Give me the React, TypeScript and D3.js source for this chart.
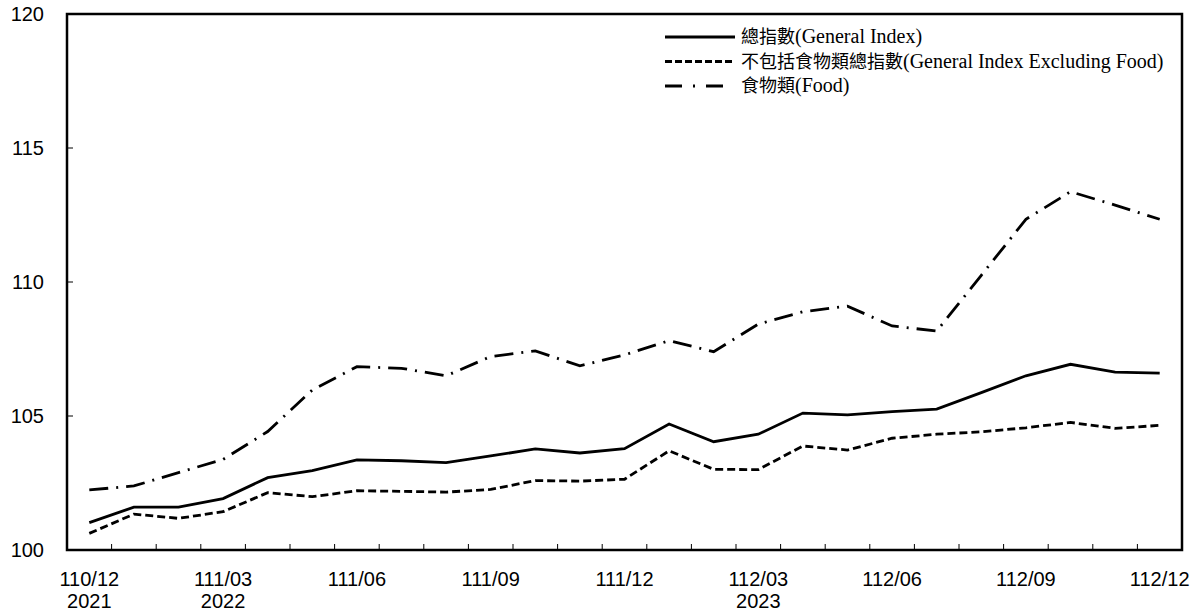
import * as d3 from 'd3'

const months = [
  '110/12', '111/01', '111/02', '111/03', '111/04', '111/05', '111/06', '111/07', '111/08',
  '111/09', '111/10', '111/11', '111/12', '112/01', '112/02', '112/03', '112/04', '112/05',
  '112/06', '112/07', '112/08', '112/09', '112/10', '112/11', '112/12',
]

const tickMonths = ['110/12', '111/03', '111/06', '111/09', '111/12', '112/03', '112/06', '112/09', '112/12']
const tickYears: Record<string, string> = { '110/12': '2021', '111/03': '2022', '112/03': '2023' }

const generalIndex = [
  101.02, 101.6, 101.6, 101.92, 102.7, 102.96, 103.36, 103.33, 103.26, 103.51, 103.77, 103.62,
  103.78, 104.7, 104.04, 104.32, 105.11, 105.04, 105.16, 105.26, 105.87, 106.5, 106.93, 106.64, 106.6,
]
const excludingFood = [
  100.62, 101.34, 101.18, 101.43, 102.14, 101.99, 102.21, 102.19, 102.16, 102.26, 102.59, 102.57,
  102.64, 103.7, 103.01, 103.0, 103.88, 103.73, 104.17, 104.32, 104.41, 104.56, 104.76, 104.54, 104.65,
]
const foodIndex = [
  102.24, 102.39, 102.89, 103.38, 104.42, 105.97, 106.84, 106.78, 106.5, 107.22, 107.43, 106.87,
  107.28, 107.81, 107.4, 108.43, 108.89, 109.1, 108.36, 108.17, 110.25, 112.34, 113.37, 112.87, 112.34,
]

const yTicks = [100, 105, 110, 115, 120]

const seriesList = [
  { name: '總指數', en: '(General Index)', values: generalIndex, dash: 'none', legendDash: 'none', legendEnd: 735 },
  {
    name: '不包括食物類總指數',
    en: '(General Index Excluding Food)',
    values: excludingFood,
    dash: '8,4',
    legendDash: '7,3',
    legendEnd: 735,
  },
  { name: '食物類', en: '(Food)', values: foodIndex, dash: '19,8,2,8', legendDash: '17,11,2,11', legendEnd: 723 },
]

const width = 1203
const height = 612
const plot = { left: 67, right: 1182, top: 14, bottom: 550 }
const sansFont = '"Liberation Sans", Arial, sans-serif'
const serifFont = '"Liberation Serif", "Times New Roman", "Noto Sans CJK TC", serif'

export default function App() {
  const x = d3.scaleBand<string>().domain(months).range([plot.left, plot.right]).padding(0)
  const y = d3.scaleLinear().domain([100, 120]).range([plot.bottom, plot.top])
  const cx = (m: string) => (x(m) ?? 0) + x.bandwidth() / 2

  const line = d3
    .line<number>()
    .x((_, i) => cx(months[i]))
    .y((v) => y(v))

  return (
    <svg
      width={width}
      height={height}
      style={{ position: 'absolute', left: 0, top: 0, background: '#fff' }}
    >
      {/* x ticks sit on the band edges and point inward */}
      {months.map((m, i) =>
        i === 0 ? null : (
          <line
            key={m}
            x1={x(m)}
            x2={x(m)}
            y1={plot.bottom}
            y2={plot.bottom - 6}
            stroke="#000"
            strokeWidth={1}
          />
        ),
      )}
      {yTicks.map((t) => (
        <g key={t}>
          <line x1={plot.left} x2={plot.left + 6} y1={y(t)} y2={y(t)} stroke="#000" strokeWidth={1} />
          <text
            x={44}
            y={y(t)}
            dy="0.36em"
            textAnchor="end"
            fontFamily={sansFont}
            fontSize={20}
            fill="#000"
          >
            {t}
          </text>
        </g>
      ))}

      {tickMonths.map((m) => (
        <g key={m}>
          <text x={cx(m)} y={586} textAnchor="middle" fontFamily={sansFont} fontSize={20} fill="#000">
            {m}
          </text>
          {tickYears[m] && (
            <text x={cx(m)} y={608} textAnchor="middle" fontFamily={sansFont} fontSize={20} fill="#000">
              {tickYears[m]}
            </text>
          )}
        </g>
      ))}

      {seriesList.map((s) => (
        <path
          key={s.name}
          d={line(s.values) ?? ''}
          fill="none"
          stroke="#000"
          strokeWidth={2.8}
          strokeDasharray={s.dash}
        />
      ))}

      <rect
        x={plot.left}
        y={plot.top}
        width={plot.right - plot.left}
        height={plot.bottom - plot.top}
        fill="none"
        stroke="#000"
        strokeWidth={2.5}
      />

      {/* legend */}
      {seriesList.map((s, i) => {
        const ly = 37 + i * 24.5
        return (
          <g key={`lg-${s.name}`}>
            <line
              x1={665}
              x2={s.legendEnd}
              y1={ly}
              y2={ly}
              stroke="#000"
              strokeWidth={2.8}
              strokeDasharray={s.legendDash}
            />
            <text x={741} y={ly + 6} fontFamily={serifFont} fontSize={20} fill="#000">
              <tspan fontFamily='"Noto Sans CJK TC", sans-serif' fontSize={18}>{s.name}</tspan>
              <tspan>{s.en}</tspan>
            </text>
          </g>
        )
      })}
    </svg>
  )
}
